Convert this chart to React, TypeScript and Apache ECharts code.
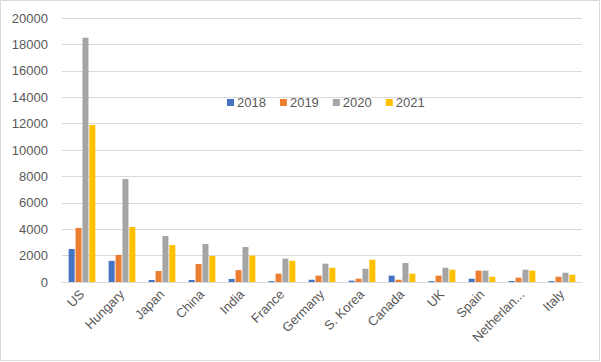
import React, { useEffect, useRef } from "react";
import * as echarts from "echarts";

const categories = ["US", "Hungary", "Japan", "China", "India", "France", "Germany", "S. Korea", "Canada", "UK", "Spain", "Netherlands", "Italy"];
const years = ["2018", "2019", "2020", "2021"];
const values2018 = [2500, 1600, 150, 150, 230, 70, 170, 100, 480, 70, 250, 70, 70];
const values2019 = [4100, 2050, 830, 1360, 900, 630, 480, 250, 170, 480, 860, 330, 400];
const values2020 = [18500, 7800, 3480, 2880, 2650, 1770, 1390, 1000, 1440, 1080, 860, 930, 700];
const values2021 = [11900, 4170, 2800, 1970, 2000, 1610, 1080, 1690, 630, 930, 400, 860, 550];
const colors = ["#4472C4", "#ED7D31", "#A5A5A5", "#FFC000"];

export default function App() {
  const ref = useRef<HTMLDivElement>(null);
  useEffect(() => {
    const chart = echarts.init(ref.current!, null, { renderer: "svg" });
    const seriesData = [values2018, values2019, values2020, values2021];
    chart.setOption({
      animation: false,
      backgroundColor: "#ffffff",
      textStyle: { fontFamily: "Liberation Sans" },
      graphic: [
        {
          type: "rect",
          shape: { x: 0.5, y: 0.5, width: 599, height: 360 },
          style: { fill: "none", stroke: "#d9d9d9", lineWidth: 1 },
          silent: true,
        },
      ],
      legend: {
        left: 222,
        top: 91,
        itemWidth: 7,
        itemHeight: 7,
        itemGap: 14,
        icon: "rect",
        textStyle: { color: "#595959", fontSize: 13, fontFamily: "Liberation Sans", padding: [0, 0, 0, -2] },
        data: years,
      },
      grid: { left: 62, right: 19, top: 18, bottom: 80, containLabel: false },
      xAxis: {
        type: "category",
        data: categories,
        axisLine: { lineStyle: { color: "#d9d9d9" } },
        axisTick: { show: false },
        axisLabel: {
          rotate: 45,
          interval: 0,
          color: "#595959",
          fontSize: 13,
          margin: 10,
          formatter: (v: string) => (v.length > 10 ? v.slice(0, 9) + "..." : v),
        },
      },
      yAxis: {
        type: "value",
        min: 0,
        max: 20000,
        interval: 2000,
        axisLine: { show: false },
        axisTick: { show: false },
        splitLine: { lineStyle: { color: "#d9d9d9" } },
        axisLabel: { color: "#595959", fontSize: 13, margin: 14, formatter: (v: number) => String(v) },
      },
      series: years.map((y, i) => ({
        name: y,
        type: "bar",
        data: seriesData[i],
        barWidth: 6,
        barGap: "15%",
        itemStyle: { color: colors[i] },
      })),
    });
    return () => chart.dispose();
  }, []);
  return <div ref={ref} style={{ position: "fixed", left: 0, top: 0, width: 601, height: 362 }} />;
}
